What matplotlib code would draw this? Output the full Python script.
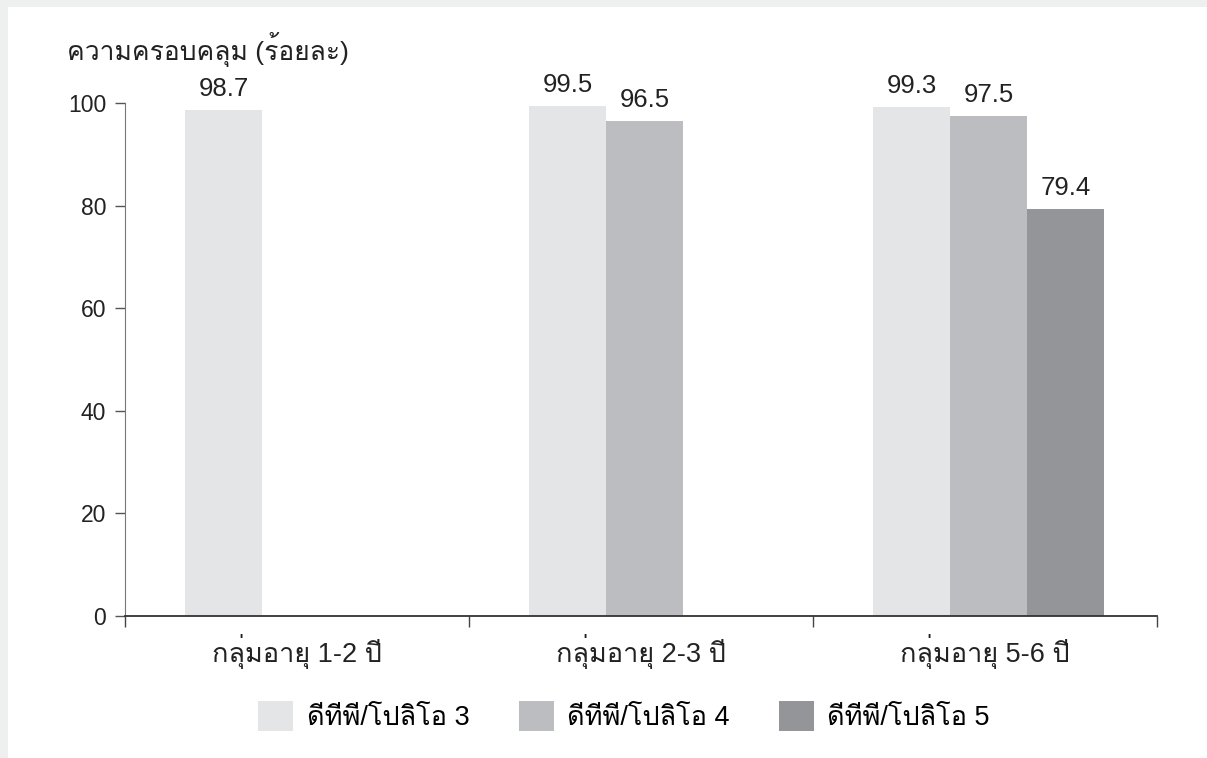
import matplotlib
matplotlib.use("Agg")
import matplotlib.pyplot as plt
from matplotlib import font_manager
from matplotlib.ft2font import FT2Font
from matplotlib.patches import Rectangle, Patch
import numpy as np

# data
groups = ["กลุ่มอายุ 1-2 ปี", "กลุ่มอายุ 2-3 ปี", "กลุ่มอายุ 5-6 ปี"]
series = ["ดีทีพี/โปลิโอ 3", "ดีทีพี/โปลิโอ 4", "ดีทีพี/โปลิโอ 5"]
dtp3 = [98.7, 99.5, 99.3]
dtp4 = [None, 96.5, 97.5]
dtp5 = [None, None, 79.4]
colors = ["#e3e5e7", "#bbbdc0", "#939598"]
yticks = [0, 20, 40, 60, 80, 100]
ylabel = "ความครอบคลุม (ร้อยละ)"


def find_thai_fonts():
    # any installed family that can draw Thai
    names = []
    for f in font_manager.fontManager.ttflist:
        try:
            cmap = FT2Font(f.fname).get_charmap()
        except Exception:
            continue
        if 0x0E01 in cmap and f.name not in names:
            names.append(f.name)
    return names


thai = find_thai_fonts()
plt.rcParams["font.family"] = ["Liberation Sans"] + thai + ["DejaVu Sans"]

W, H = 1207, 758
fig = plt.figure(figsize=(W / 100, H / 100), dpi=100)
fig.patch.set_facecolor("#eef0f0")
fig.add_artist(Rectangle((8 / W, 0), 1, 1 - 7 / H, transform=fig.transFigure,
                         facecolor="white", edgecolor="none", zorder=0))

ax = fig.add_axes([125 / W, 1 - 616 / H, 1032 / W, 513 / H])
ax.set_facecolor("white")

width = 0.224
offset = 0.286
x = np.arange(len(groups))
for j, vals in enumerate([dtp3, dtp4, dtp5]):
    for i, v in enumerate(vals):
        if v is None:
            continue
        xc = x[i] + offset + j * width
        ax.bar(xc, v, width=width, color=colors[j], edgecolor="none")
        ax.annotate(f"{v:.1f}", (xc, v), xytext=(0, 10), textcoords="offset points",
                    ha="center", va="baseline", fontsize=18.5, color="#222222")

ax.set_xlim(0, 3)
ax.set_ylim(0, 100)
ax.set_yticks(yticks)
ax.set_xticks([0, 1, 2, 3])
ax.set_xticklabels([])
ax.tick_params(axis="y", direction="out", length=7, width=1, colors="#555555",
               labelsize=16.5, labelcolor="#222222", pad=6.5)
ax.tick_params(axis="x", direction="out", length=8, width=1, colors="#444444")
for s in ["top", "right"]:
    ax.spines[s].set_visible(False)
ax.spines["left"].set_color("#777777")
ax.spines["bottom"].set_color("#333333")
ax.spines["bottom"].set_linewidth(1.3)

for i, g in enumerate(groups):
    ax.text(i + 0.5, -46 / 513, g, ha="center", va="baseline", fontsize=19.5,
            color="#222222", transform=ax.get_xaxis_transform())

fig.text(67 / W, 1 - 60 / H, ylabel, ha="left", va="baseline", fontsize=19,
         color="#222222")

handles = [Patch(facecolor=c, edgecolor="none") for c in colors]
fig.legend(handles, series, loc="center", bbox_to_anchor=(624 / W, 1 - 716 / H), ncol=3,
           frameon=False, fontsize=19.5, handlelength=1.3, handleheight=1.3,
           handletextpad=0.5, columnspacing=1.8)

fig.savefig("out.png", dpi=100, facecolor=fig.get_facecolor())
